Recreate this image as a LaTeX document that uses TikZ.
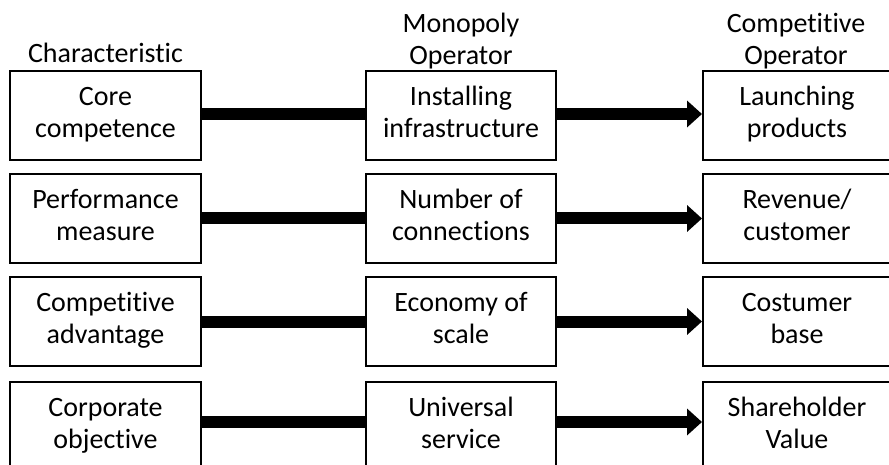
\documentclass[tikz,border=0pt]{standalone}
\usepackage{fontspec}
\setmainfont[RawFeature=-liga]{Carlito}
\usetikzlibrary{arrows.meta}
\newcommand\twolines[2]{\strut#1\\#2\strut}
\begin{document}
\begin{tikzpicture}[x=1pt,y=-1pt,
  cell/.style={draw, line width=2pt, inner sep=0pt, minimum height=89pt, align=center, font=\fontsize{28}{32}\selectfont},
  lcol/.style={cell, minimum width=191pt},
  mcol/.style={cell, minimum width=190pt},
  rcol/.style={cell, minimum width=188pt},
  head/.style={inner sep=0pt, align=center, font=\fontsize{28}{32}\selectfont},
  bar/.style={line width=12pt},
  arr/.style={line width=12pt, -{Triangle[length=15pt,width=26pt]}}
]
\useasboundingbox (0,0) rectangle (889,465);
\clip (0,0) rectangle (889,465);

% headers
\node[head, anchor=base] (hc) at (105.5,63) {Characteristic};
\node[head, anchor=south] (hm) at (461,69) {Monopoly\\Operator};
\node[head, anchor=south] (hr) at (796,69) {Competitive\\Operator};

% row 1
\node[lcol] (l1) at (105.5,115.5) {\twolines{Core}{competence}};
\node[mcol] (m1) at (461,115.5) {\twolines{Installing}{infrastructure}};
\node[rcol] (r1) at (797,115.5) {\twolines{Launching}{products}};
% row 2
\node[lcol] (l2) at (105.5,218.5) {\twolines{Performance}{measure}};
\node[mcol] (m2) at (461,218.5) {\twolines{Number of}{connections}};
\node[rcol] (r2) at (797,218.5) {\twolines{Revenue/}{customer}};
% row 3
\node[lcol] (l3) at (105.5,321.5) {\twolines{Competitive}{advantage}};
\node[mcol] (m3) at (461,321.5) {\twolines{Economy of}{scale}};
\node[rcol] (r3) at (797,321.5) {\twolines{Costumer}{base}};
% row 4
\node[lcol] (l4) at (105.5,426.5) {\twolines{Corporate}{objective}};
\node[mcol] (m4) at (461,426.5) {\twolines{Universal}{service}};
\node[rcol] (r4) at (797,426.5) {\twolines{Shareholder}{Value}};

% connectors
\draw[bar] ([yshift=1.5pt]l1.east) -- ([yshift=1.5pt]m1.west);
\draw[arr] ([yshift=1.5pt]m1.east) -- ([yshift=1.5pt]r1.west);
\draw[bar] (l2.east) -- (m2.west);
\draw[arr] (m2.east) -- (r2.west);
\draw[bar] (l3.east) -- (m3.west);
\draw[arr] (m3.east) -- (r3.west);
\draw[bar] ([yshift=4.5pt]l4.east) -- ([yshift=4.5pt]m4.west);
\draw[arr] ([yshift=4.5pt]m4.east) -- ([yshift=4.5pt]r4.west);
\end{tikzpicture}
\end{document}
